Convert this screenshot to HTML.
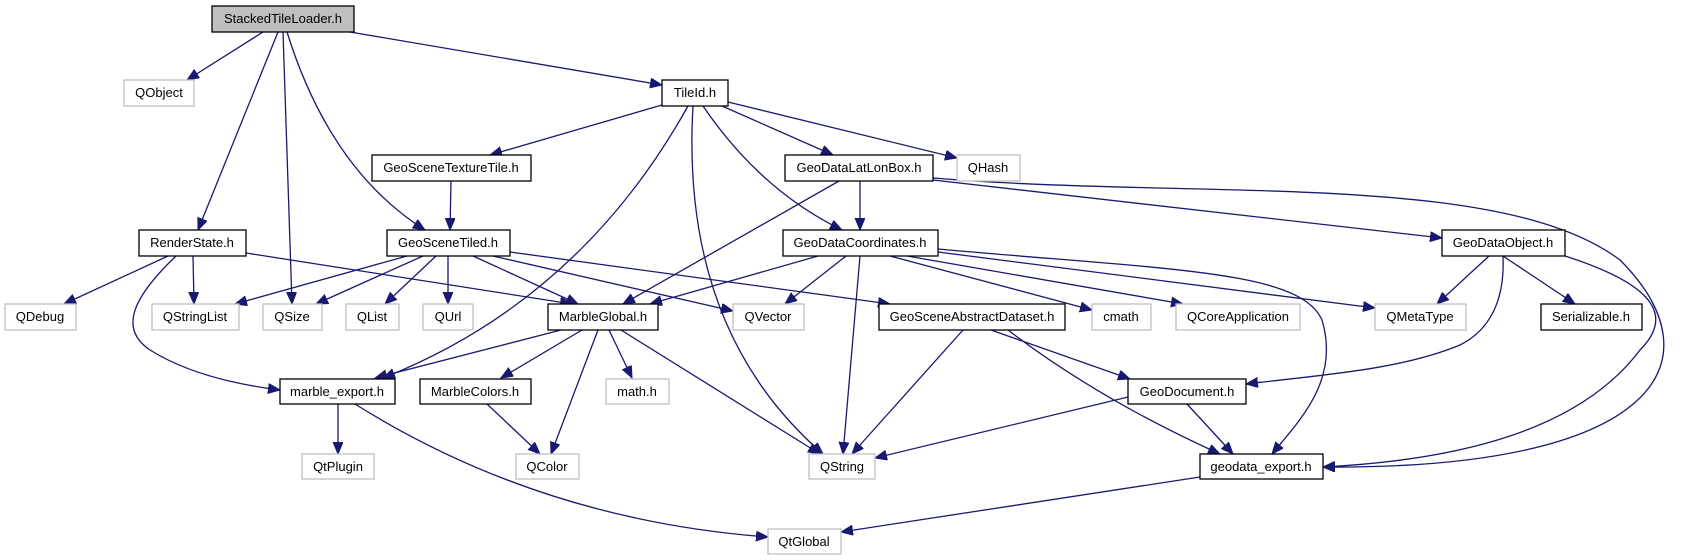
<!DOCTYPE html>
<html><head><meta charset="utf-8"><style>
html,body{margin:0;padding:0;background:#fff;}
svg{display:block;}
text{font-family:"Liberation Sans",sans-serif;font-size:13px;text-anchor:middle;fill:#000;}
.n{fill:#fff;stroke:#000;stroke-width:1.3;}
.g{fill:#fff;stroke:#bfbfbf;stroke-width:1.3;}
.e{fill:none;stroke:#191970;stroke-width:1.3;marker-end:url(#a);}
</style></head><body>
<svg width="1691" height="560" viewBox="0 0 1691 560" xmlns="http://www.w3.org/2000/svg">
<defs><marker id="a" markerUnits="userSpaceOnUse" markerWidth="14" markerHeight="12" refX="12" refY="5" orient="auto"><path d="M0,0 L12,5 L0,10 z" fill="#191970" stroke="#191970"/></marker></defs>
<path class="e" d="M263,32 L187,80"/>
<path class="e" d="M350,32 L662,85"/>
<path class="e" d="M278,32 L198,230"/>
<path class="e" d="M283,32 L292,304"/>
<path class="e" d="M287,32 Q330,170 425,230"/>
<path class="e" d="M662,105 L490,155"/>
<path class="e" d="M688,106 Q580,300 383,378"/>
<path class="e" d="M693,106 Q680,330 823,454"/>
<path class="e" d="M703,106 Q760,190 842,230"/>
<path class="e" d="M722,106 L833,155"/>
<path class="e" d="M728,102 L957,158"/>
<path class="e" d="M451,181 L450,230"/>
<path class="e" d="M168,256 L64,304"/>
<path class="e" d="M193,256 L194,304"/>
<path class="e" d="M176,256 C130,300 120,330 150,350 C190,375 240,385 280,390"/>
<path class="e" d="M246,253 L572,304"/>
<path class="e" d="M407,256 L235,304"/>
<path class="e" d="M423,256 L316,304"/>
<path class="e" d="M436,256 L385,304"/>
<path class="e" d="M448,256 L448,304"/>
<path class="e" d="M473,256 L578,304"/>
<path class="e" d="M493,256 L733,311"/>
<path class="e" d="M510,252 L890,304"/>
<path class="e" d="M839,181 L623,304"/>
<path class="e" d="M860,181 L860,230"/>
<path class="e" d="M933,180 L1442,238"/>
<path class="e" d="M933,178 C1200,200 1500,170 1620,260 C1720,360 1660,470 1323,467"/>
<path class="e" d="M818,256 L650,304"/>
<path class="e" d="M846,256 L785,304"/>
<path class="e" d="M860,256 L843,454"/>
<path class="e" d="M890,256 L1092,310"/>
<path class="e" d="M907,256 L1183,304"/>
<path class="e" d="M938,252 L1375,308"/>
<path class="e" d="M938,249 C1170,270 1300,270 1322,320 C1340,380 1300,420 1272,454"/>
<path class="e" d="M1489,256 L1437,304"/>
<path class="e" d="M1503,256 L1575,304"/>
<path class="e" d="M1503,256 C1505,300 1490,330 1460,345 C1400,370 1320,375 1246,384"/>
<path class="e" d="M1565,256 C1640,280 1680,310 1640,350 C1580,430 1460,460 1323,467"/>
<path class="e" d="M561,330 L375,378"/>
<path class="e" d="M582,330 L501,378"/>
<path class="e" d="M598,330 L551,454"/>
<path class="e" d="M609,330 L632,378"/>
<path class="e" d="M621,330 L820,454"/>
<path class="e" d="M338,404 L338,454"/>
<path class="e" d="M355,404 Q540,520 768,537"/>
<path class="e" d="M487,404 L540,454"/>
<path class="e" d="M963,330 L852,454"/>
<path class="e" d="M991,330 L1130,379"/>
<path class="e" d="M1008,330 Q1100,400 1220,454"/>
<path class="e" d="M1128,397 L875,458"/>
<path class="e" d="M1187,404 L1233,454"/>
<path class="e" d="M1200,477 L841,532"/>
<rect x="212" y="6" width="142" height="26" fill="#bfbfbf" stroke="#000" stroke-width="1.3"/><text x="283" y="23">StackedTileLoader.h</text>
<rect class="g" x="124" y="80" width="70" height="26"/><text x="159" y="97">QObject</text>
<rect class="n" x="662" y="80" width="66" height="26"/><text x="695" y="97">TileId.h</text>
<rect class="n" x="372" y="155" width="159" height="26"/><text x="451" y="172">GeoSceneTextureTile.h</text>
<rect class="n" x="785" y="155" width="148" height="26"/><text x="859" y="172">GeoDataLatLonBox.h</text>
<rect class="g" x="957" y="155" width="63" height="26"/><text x="988" y="172">QHash</text>
<rect class="n" x="139" y="230" width="107" height="26"/><text x="192" y="247">RenderState.h</text>
<rect class="n" x="387" y="230" width="123" height="26"/><text x="448" y="247">GeoSceneTiled.h</text>
<rect class="n" x="783" y="230" width="155" height="26"/><text x="860" y="247">GeoDataCoordinates.h</text>
<rect class="n" x="1442" y="230" width="123" height="26"/><text x="1503" y="247">GeoDataObject.h</text>
<rect class="g" x="5" y="304" width="71" height="26"/><text x="40" y="321">QDebug</text>
<rect class="g" x="152" y="304" width="87" height="26"/><text x="195" y="321">QStringList</text>
<rect class="g" x="263" y="304" width="59" height="26"/><text x="292" y="321">QSize</text>
<rect class="g" x="346" y="304" width="53" height="26"/><text x="372" y="321">QList</text>
<rect class="g" x="423" y="304" width="50" height="26"/><text x="448" y="321">QUrl</text>
<rect class="n" x="548" y="304" width="110" height="26"/><text x="603" y="321">MarbleGlobal.h</text>
<rect class="g" x="733" y="304" width="71" height="26"/><text x="768" y="321">QVector</text>
<rect class="n" x="879" y="304" width="186" height="26"/><text x="972" y="321">GeoSceneAbstractDataset.h</text>
<rect class="g" x="1092" y="304" width="59" height="26"/><text x="1121" y="321">cmath</text>
<rect class="g" x="1176" y="304" width="124" height="26"/><text x="1238" y="321">QCoreApplication</text>
<rect class="g" x="1375" y="304" width="91" height="26"/><text x="1420" y="321">QMetaType</text>
<rect class="n" x="1541" y="304" width="101" height="26"/><text x="1591" y="321">Serializable.h</text>
<rect class="n" x="280" y="379" width="115" height="25"/><text x="337" y="396">marble_export.h</text>
<rect class="n" x="420" y="379" width="111" height="25"/><text x="475" y="396">MarbleColors.h</text>
<rect class="g" x="606" y="379" width="63" height="25"/><text x="637" y="396">math.h</text>
<rect class="n" x="1128" y="379" width="118" height="25"/><text x="1187" y="396">GeoDocument.h</text>
<rect class="g" x="302" y="454" width="72" height="25"/><text x="338" y="471">QtPlugin</text>
<rect class="g" x="516" y="454" width="63" height="25"/><text x="547" y="471">QColor</text>
<rect class="g" x="809" y="454" width="66" height="25"/><text x="842" y="471">QString</text>
<rect class="n" x="1200" y="454" width="123" height="25"/><text x="1261" y="471">geodata_export.h</text>
<rect class="g" x="768" y="529" width="73" height="25"/><text x="804" y="546">QtGlobal</text>
</svg>
</body></html>
